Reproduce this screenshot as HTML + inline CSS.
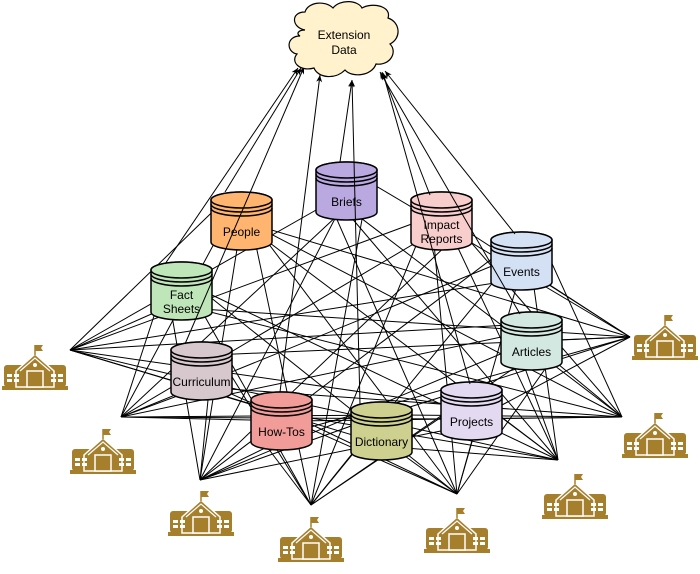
<!DOCTYPE html>
<html><head><meta charset="utf-8"><style>
html,body{margin:0;padding:0;background:#fff;}
svg{display:block;}
text{font-family:"Liberation Sans",sans-serif;font-size:12px;fill:#000;text-anchor:middle;}
</style></head><body>
<svg id="s" width="700" height="574" viewBox="0 0 700 574" xmlns="http://www.w3.org/2000/svg">
<defs>
<marker id="ar" markerWidth="8" markerHeight="8" refX="7" refY="4" orient="auto" markerUnits="userSpaceOnUse">
<path d="M0,1 L7,4 L0,7 L2,4 Z" fill="#000"/>
</marker>
<g id="school">
<rect x="2" y="22" width="62" height="22" rx="3" fill="#a57f2c"/>
<rect x="0" y="43" width="66" height="4" fill="#a57f2c"/>
<path d="M14,28 L33,11 L52,28 L52,44 L14,44 Z" fill="#a57f2c" stroke="#fff" stroke-width="1.5"/>
<path d="M18,28 L33,15 L48,28" fill="none" stroke="#fff" stroke-width="1.2"/>
<circle cx="33" cy="22" r="2" fill="#fff"/>
<rect x="25" y="28" width="16" height="16" fill="#a57f2c" stroke="#fff" stroke-width="1.5"/>
<rect x="5" y="31" width="5" height="3" fill="#fff"/><rect x="12" y="31" width="5" height="3" fill="#fff"/>
<rect x="5" y="36" width="5" height="3" fill="#fff"/><rect x="12" y="36" width="5" height="3" fill="#fff"/>
<rect x="49" y="31" width="5" height="3" fill="#fff"/><rect x="56" y="31" width="5" height="3" fill="#fff"/>
<rect x="49" y="36" width="5" height="3" fill="#fff"/><rect x="56" y="36" width="5" height="3" fill="#fff"/>
<line x1="33" y1="2" x2="33" y2="12" stroke="#a57f2c" stroke-width="1.5"/>
<path d="M33,2 L41,2 L39,5 L41,8 L33,8Z" fill="#a57f2c"/>
</g>
</defs>
<g id="lines" stroke="#000" stroke-width="1" fill="none"></g>
<g id="cyl"></g>
<g id="arrows" stroke="#000" stroke-width="1" fill="none"></g>
<path d="M305,30 C292,28 290,12 305,12 C308,2 325,0 333,8 C340,-1 358,0 362,8 C372,2 392,6 388,18 C400,22 402,38 390,44 C398,52 390,66 376,64 C372,76 352,78 345,70 C335,80 318,78 314,68 C300,72 290,62 297,54 C286,52 286,36 300,36 C296,34 298,30 305,30 Z" fill="#fff2cc" stroke="#000" stroke-width="1.2"/>
<text x="344" y="39">Extension</text>
<text x="344" y="54">Data</text>
<use href="#school" x="2" y="343"/>
<use href="#school" x="70" y="427"/>
<use href="#school" x="168" y="489"/>
<use href="#school" x="278" y="515"/>
<use href="#school" x="424" y="506"/>
<use href="#school" x="542" y="472"/>
<use href="#school" x="622" y="411"/>
<use href="#school" x="632" y="313"/>
</svg>
<script>
var NS="http://www.w3.org/2000/svg";
var hubs=[[70,350],[121,417],[200,480],[311,505],[457,494],[558,460],[622,417],[630,337]];
var cyls=[
["People",211,192,"#ffb570",["People"]],
["Briefs",316,162,"#b9a9e0",["Briefs"]],
["Impact",411,192,"#f8cecc",["Impact","Reports"]],
["Events",491,232,"#d4e1f5",["Events"]],
["Fact",151,262,"#bfe6b9",["Fact","Sheets"]],
["Articles",501,312,"#d3e8e0",["Articles"]],
["Curr",171,342,"#d6c8cc",["Curriculum"]],
["HowTos",251,392,"#f19c99",["How-Tos"]],
["Dict",351,402,"#cdd08f",["Dictionary"]],
["Proj",441,382,"#e3d9f0",["Projects"]]];
var W=61,H=58,ry=8;
var L=document.getElementById("lines"),C=document.getElementById("cyl"),A=document.getElementById("arrows");
function el(t,a,p){var e=document.createElementNS(NS,t);for(var k in a)e.setAttribute(k,a[k]);p.appendChild(e);return e;}
var offs=[-22,-11,0,11,22];
cyls.forEach(function(c,i){
 var cx=c[1]+W/2,cy=c[2]+H/2;
 hubs.forEach(function(h,j){
  var tx=cx+offs[(i+j)%5],ty=cy+((i*3+j)%5-2)*8;
  el("line",{x1:h[0],y1:h[1],x2:tx,y2:ty},L);
 });
});
cyls.forEach(function(c){
 var x=c[1],y=c[2],g=el("g",{},C);
 var d="M"+x+","+(y+ry)+" A"+(W/2)+","+ry+" 0 0 1 "+(x+W)+","+(y+ry)+" L"+(x+W)+","+(y+H-ry)+" A"+(W/2)+","+ry+" 0 0 1 "+x+","+(y+H-ry)+" Z";
 el("path",{d:d,fill:c[3],stroke:"#000","stroke-width":1.5},g);
 el("ellipse",{cx:x+W/2,cy:y+ry,rx:W/2,ry:ry,fill:c[3],stroke:"#000","stroke-width":1.5},g);
 [4,8].forEach(function(o){el("path",{d:"M"+x+","+(y+ry+o)+" A"+(W/2)+","+ry+" 0 0 0 "+(x+W)+","+(y+ry+o),fill:"none",stroke:"#000","stroke-width":1.5},g);});
 var ls=c[4];
 ls.forEach(function(t,k){var ty=y+H/2+15+(k-(ls.length-1)/2)*14;var e=el("text",{x:x+W/2,y:ty},g);e.textContent=t;});
});
var srcs=[[225,192],[340,162],[430,195],[515,234],[165,264],[520,314],[185,344],[280,392],[360,404],[470,384]];
var tg={People:[301,68],Fact:[298,68],Curr:[304,67],Briefs:[352,80],HowTos:[320,75],Dict:[352,80],Impact:[382,72],Events:[385,71],Articles:[380,72],Proj:[383,73]};
cyls.forEach(function(c,i){var t=tg[c[0]];el("line",{x1:srcs[i][0],y1:srcs[i][1],x2:t[0],y2:t[1],"marker-end":"url(#ar)"},A);});
</script>
</body></html>
